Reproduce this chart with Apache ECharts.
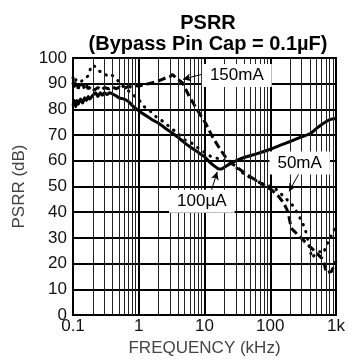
<!DOCTYPE html>
<html>
<head>
<meta charset="utf-8">
<script src="https://cdn.jsdelivr.net/npm/echarts@6/dist/echarts.min.js"></script>
<style>
  html, body { margin: 0; padding: 0; background: #fff; }
  #chart { width: 348px; height: 362px; }
</style>
</head>
<body>
<div id="chart"></div>
<script>
// frequency in kHz, PSRR in dB
const freq100uA = [0.1, 0.105, 0.11, 0.115, 0.12, 0.13, 0.14, 0.15, 0.16, 0.17, 0.18, 0.2, 0.22, 0.24, 0.26, 0.28, 0.3, 0.33, 0.36, 0.4, 0.45, 0.5, 0.6, 0.7, 0.8, 1, 1.3, 1.6, 2, 2.5, 3.2, 4, 5, 6, 8, 10, 12, 14, 16, 18, 20, 25, 30, 40, 60, 100, 150, 200, 300, 400, 500, 600, 700, 850, 1000]
const psrr100uA = [81.5, 83.5, 81, 83.5, 82, 84, 82.5, 84.5, 83.5, 85, 84, 85.5, 86.5, 85, 86.5, 85.5, 86.5, 85.8, 86.5, 86, 85.3, 84.5, 84, 83, 81.5, 79.5, 77.5, 76, 74.6, 72.8, 70.9, 69, 67, 65.5, 63.3, 61.6, 59.5, 58, 57, 56.8, 57.5, 59, 60, 61.3, 62.6, 64.5, 66.3, 67.5, 69.3, 70.5, 72.5, 74, 75.2, 76.2, 76.5]

const freq150mA = [0.1, 0.103, 0.106, 0.11, 0.115, 0.12, 0.125, 0.13, 0.14, 0.15, 0.16, 0.17, 0.19, 0.21, 0.24, 0.27, 0.3, 0.35, 0.4, 0.45, 0.5, 0.6, 0.7, 0.8, 0.9, 1, 1.2, 1.4, 1.63, 1.9, 2.28, 2.7, 3.0, 3.27, 3.6, 4.0, 4.6, 5.8, 7.8, 10.4, 13.1, 16.6, 20.9, 26, 35, 45, 59, 80, 105, 133, 159, 178, 189, 200, 211, 251, 299, 355, 424, 535, 636, 675, 713, 850, 955, 1000]
const psrr150mA = [90.5, 88.5, 91, 89, 90.5, 88, 89.5, 88.5, 90, 88, 89.5, 88, 89, 87.5, 88.5, 87.5, 88.5, 88, 88.8, 88, 88.6, 88.2, 89, 88.5, 89.3, 89, 89.8, 90, 90.4, 90.8, 91.7, 92.5, 92.8, 93.6, 92.5, 91.5, 90.4, 85.3, 79.7, 74.6, 69.5, 65.2, 61.4, 59, 56.5, 54.5, 52.6, 50.5, 48.7, 46.2, 43.7, 41.2, 39.3, 36.1, 33.6, 31.7, 29.8, 27.9, 26, 23.5, 21.6, 19, 16.5, 16.9, 19.7, 21]

const freq50mA = [0.1, 0.105, 0.11, 0.115, 0.125, 0.135, 0.145, 0.155, 0.17, 0.185, 0.2, 0.22, 0.24, 0.27, 0.3, 0.33, 0.38, 0.45, 0.51, 0.6, 0.8, 1.03, 1.22, 1.55, 1.94, 2.4, 3.1, 3.9, 4.9, 6.3, 7.8, 10, 13, 17.6, 26, 42, 83, 105, 117, 141, 178, 224, 299, 337, 380, 410, 424, 480, 567, 640, 740, 850, 955, 1000]
const psrr50mA = [92.3, 90.5, 91.5, 90.8, 92, 91, 92, 91.5, 93, 96, 97.3, 96.5, 95.2, 94.5, 94.2, 93, 93.6, 92, 90.5, 88.5, 86, 83.4, 81, 79, 76.5, 75.2, 72.7, 70.8, 68.3, 67, 65.2, 63.3, 61.4, 60.7, 58.8, 54.4, 50.6, 50, 49.4, 47.5, 45, 42.4, 36.7, 33.6, 28.5, 24.7, 22.2, 23.5, 24.7, 24, 27.9, 31, 33.6, 34]

const xTickLabels = ['0.1', '1', '10', '100', '1k']

// annotations: label text, label position, leader line start -> arrow end
const notes = [
  { text: '150mA', at: [31, 93.2], from: [13, 94.7], to: [4.7, 91.7] },
  { text: '50mA', at: [280, 59.1], from: [283, 55.7], to: [193, 48.1] },
  { text: '100µA', at: [9.1, 44.3], from: [12.4, 47.5], to: [15.6, 55.7] },
]

const pairs = (xs, ys) => xs.map((x, i) => [x, ys[i]])

// minor log grid lines 2..9 in every decade
const minorLines = []
for (let d = 0.1; d < 1000; d *= 10) {
  for (let k = 2; k <= 9; k++) minorLines.push({ xAxis: +(k * d).toPrecision(3) })
}

const font = '"Liberation Sans", Arial, sans-serif'
const chart = echarts.init(document.getElementById('chart'))

chart.setOption({
  animation: false,
  title: {
    text: 'PSRR\n(Bypass Pin Cap = 0.1µF)',
    left: 203,
    top: 8,
    textAlign: 'center',
    textStyle: { fontFamily: font, fontSize: 20, fontWeight: 'bold', color: '#000', lineHeight: 21 },
  },
  grid: { left: 73, right: 10, top: 58, bottom: 40, show: true, borderColor: '#000', borderWidth: 2 },
  xAxis: {
    type: 'log',
    logBase: 10,
    min: 0.1,
    max: 1000,
    name: 'FREQUENCY (kHz)',
    nameLocation: 'middle',
    nameGap: 25,
    nameTextStyle: { fontFamily: font, fontSize: 17, color: '#444' },
    axisLine: { lineStyle: { color: '#000', width: 2 } },
    axisTick: { show: false },
    axisLabel: {
      fontFamily: font,
      fontSize: 17,
      color: '#111',
      margin: 3,
      formatter: (v) => xTickLabels[Math.round(Math.log10(v)) + 1],
    },
    splitLine: { show: true, lineStyle: { color: '#000', width: 2 } },
  },
  yAxis: {
    type: 'value',
    min: 0,
    max: 100,
    interval: 10,
    name: 'PSRR (dB)',
    nameLocation: 'middle',
    nameGap: 43,
    nameTextStyle: { fontFamily: font, fontSize: 17, color: '#444' },
    axisLine: { show: true, lineStyle: { color: '#000', width: 2 } },
    axisTick: { show: false },
    axisLabel: { fontFamily: font, fontSize: 17, color: '#111', margin: 6 },
    splitLine: { show: true, lineStyle: { color: '#000', width: 2 } },
  },
  series: [
    {
      name: 'grid',
      type: 'line',
      data: [],
      silent: true,
      markLine: {
        silent: true,
        symbol: 'none',
        label: { show: false },
        lineStyle: { color: '#222', width: 1, type: 'solid' },
        data: minorLines,
      },
    },
    {
      name: '100µA',
      type: 'line',
      data: pairs(freq100uA, psrr100uA),
      showSymbol: false,
      smooth: 0.2,
      lineStyle: { color: '#000', width: 3 },
      z: 3,
    },
    {
      name: '150mA',
      type: 'line',
      data: pairs(freq150mA, psrr150mA),
      showSymbol: false,
      lineStyle: { color: '#000', width: 3, type: [8, 4] },
      z: 3,
    },
    {
      name: '50mA',
      type: 'line',
      data: pairs(freq50mA, psrr50mA),
      showSymbol: false,
      lineStyle: { color: '#000', width: 3, type: [0.5, 7], cap: 'round' },
      z: 3,
    },
    {
      name: 'notes',
      type: 'line',
      data: [],
      silent: true,
      z: 5,
      markLine: {
        silent: true,
        symbol: ['none', 'arrow'],
        symbolSize: [6, 8],
        label: { show: false },
        lineStyle: { color: '#000', width: 1, type: 'solid' },
        data: notes.map((n) => [{ coord: n.from }, { coord: n.to }]),
      },
      markPoint: {
        silent: true,
        symbol: 'circle',
        symbolSize: 1,
        itemStyle: { color: 'rgba(0,0,0,0)' },
        label: {
          show: true,
          position: 'inside',
          fontFamily: font,
          fontSize: 17,
          color: '#000',
          backgroundColor: '#fff',
          padding: [3, 8],
          formatter: (p) => p.name,
        },
        data: notes.map((n) => ({ name: n.text, coord: n.at })),
      },
    },
  ],
})
</script>
</body>
</html>
